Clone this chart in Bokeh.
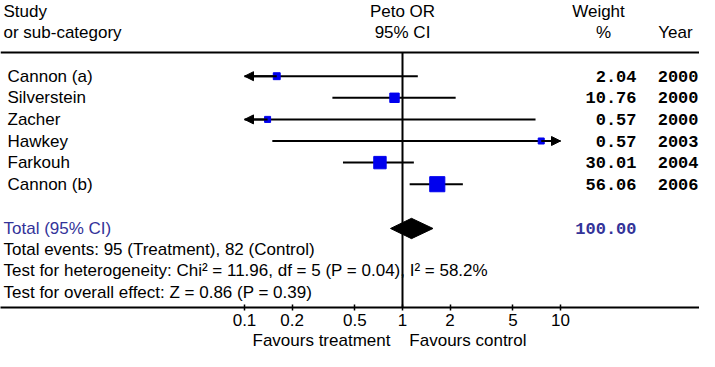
from bokeh.plotting import figure
from bokeh.models import (Range1d, Label, Span, Arrow, NormalHead, FixedTicker,
                          CustomJSTickFormatter, ColumnDataSource, Title)
from bokeh.embed import file_html
from bokeh.resources import INLINE
import math

# ---------------- data ----------------
studies = ["Cannon (a)", "Silverstein", "Zacher", "Hawkey", "Farkouh", "Cannon (b)"]
peto_or = [0.16, 0.89, 0.14, 7.55, 0.72, 1.66]
ci_low = [0.02, 0.36, 0.01, 0.15, 0.42, 1.11]
ci_high = [1.25, 2.17, 6.95, 372.0, 1.18, 2.41]
weights = [2.04, 10.76, 0.57, 0.57, 30.01, 56.06]
years = [2000, 2000, 2000, 2003, 2004, 2006]
total_or = 1.14
total_low = 0.84
total_high = 1.56
total_weight = 100.00
tick_values = [0.1, 0.2, 0.5, 1, 2, 5, 10]
tick_labels = ["0.1", "0.2", "0.5", "1", "2", "5", "10"]
axis_min, axis_max = 0.1, 10
stats_lines = [
    "Total events: 95 (Treatment), 82 (Control)",
    "Test for heterogeneity: Chi\u00b2 = 11.96, df = 5 (P = 0.04), I\u00b2 = 58.2%",
    "Test for overall effect: Z = 0.86 (P = 0.39)",
]
favours_left = "Favours treatment"
favours_right = "Favours control"

# ---------------- layout ----------------
W, H, BOTTOM = 699, 351, 44
PX_PER_DEC = 158.0
X_ONE = 402.0          # canvas px of OR = 1
ROW0, ROW_H = 75.7, 21.6
FH = H - BOTTOM
x_start = 10 ** ((0 - X_ONE) / PX_PER_DEC)
x_end = 10 ** ((W - X_ONE) / PX_PER_DEC)
y_top = (0 - ROW0) / ROW_H
y_bot = (FH - ROW0) / ROW_H

SANS = "Liberation Sans"
MONO = "Liberation Mono"
FS = "17px"
BLUE = "#0000ee"
NAVY = "#333399"

p = figure(width=W, height=H, x_axis_type="log",
           x_range=Range1d(x_start, x_end), y_range=Range1d(y_bot, y_top),
           output_backend="svg", toolbar_location=None,
           min_border_left=0, min_border_right=0, min_border_top=0,
           min_border_bottom=BOTTOM)
p.yaxis.visible = False
p.grid.visible = False
p.outline_line_color = None

ax = p.xaxis[0]
ax.ticker = FixedTicker(ticks=tick_values)
ax.formatter = CustomJSTickFormatter(args=dict(vals=tick_values, labs=tick_labels), code="""
const i = vals.findIndex(v => Math.abs(v - tick) < 1e-6 * Math.max(1, Math.abs(tick)));
return i >= 0 ? labs[i] : String(tick);
""")
ax.axis_line_width = 2
ax.axis_line_color = "black"
ax.major_tick_in = 3
ax.major_tick_out = 3
ax.major_tick_line_width = 1.5
ax.minor_tick_line_color = None
ax.major_label_text_font = SANS
ax.major_label_text_font_size = FS
ax.major_label_text_color = "black"
ax.major_label_standoff = 3

# "Favours" captions under the axis
gap = "\u00a0" * 4
p.add_layout(Title(text=favours_left + gap + favours_right, align="left", offset=252,
                   text_font=SANS, text_font_size=FS, text_font_style="normal",
                   text_color="black", standoff=0), "below")

rows = list(range(len(studies)))
TOTAL_ROW = len(studies) + 1.05
HEAD1 = (11 - ROW0) / ROW_H
HEAD2 = (32 - ROW0) / ROW_H
HEAD_LINE = (52 - ROW0) / ROW_H

# header line and line of no effect
p.add_layout(Span(location=HEAD_LINE, dimension="width", line_width=2, line_color="black"))
p.segment(x0=[1], y0=[HEAD_LINE], x1=[1], y1=[y_bot], line_width=2, line_color="black")

# confidence intervals
lo_c = [max(v, axis_min) for v in ci_low]
hi_c = [min(v, axis_max) for v in ci_high]
p.segment(x0=lo_c, y0=rows, x1=hi_c, y1=rows, line_width=2, line_color="black")
for i in rows:
    if ci_low[i] < axis_min:
        p.add_layout(Arrow(end=NormalHead(size=9, fill_color="black", line_color="black"),
                           x_start=peto_or[i], y_start=i, x_end=axis_min, y_end=i,
                           line_width=2, line_color="black"))
    if ci_high[i] > axis_max:
        p.add_layout(Arrow(end=NormalHead(size=9, fill_color="black", line_color="black"),
                           x_start=peto_or[i], y_start=i, x_end=axis_max, y_end=i,
                           line_width=2, line_color="black"))

sizes = [5 + 1.35 * math.sqrt(w) for w in weights]
src = ColumnDataSource(dict(x=peto_or, y=rows, s=sizes))
p.scatter("x", "y", size="s", marker="square", source=src,
          fill_color=BLUE, line_color=BLUE)

# pooled diamond
dh = 0.47
p.patch(x=[total_low, total_or, total_high, total_or],
        y=[TOTAL_ROW, TOTAL_ROW - dh, TOTAL_ROW, TOTAL_ROW + dh],
        fill_color="black", line_color="black")


def lab(text, x, y, align="left", font=SANS, size=FS, color="black", style="normal"):
    p.add_layout(Label(x=x, y=y, x_units="screen", y_units="data", text=text,
                       text_align=align, text_baseline="middle", text_font=font,
                       text_font_size=size, text_color=color, text_font_style=style))


# headers
lab("Study", 3, HEAD1)
lab("or sub-category", 3, HEAD2)
lab("Peto OR", X_ONE, HEAD1, align="center")
lab("95% CI", X_ONE, HEAD2, align="center")
lab("Weight", 598, HEAD1, align="center")
lab("%", 603, HEAD2, align="center")
lab("Year", 675, HEAD2, align="center")

# study rows
for i, name in enumerate(studies):
    lab(name, 7, i)
    lab(f"{weights[i]:.2f}", 636, i, align="right", font=MONO, style="bold")
    lab(str(years[i]), 698, i, align="right", font=MONO, style="bold")

lab("Total (95% CI)", 3, TOTAL_ROW, color=NAVY)
lab(f"{total_weight:.2f}", 636, TOTAL_ROW, align="right", font=MONO,
    color=NAVY, style="bold")

for k, line in enumerate(stats_lines):
    lab(line, 3, len(studies) + 2 + k)

open("out.html", "w").write(file_html(p, INLINE))
